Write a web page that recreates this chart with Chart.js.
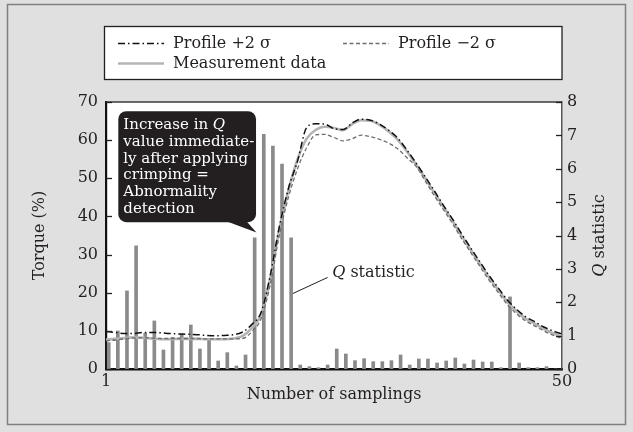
<!DOCTYPE html>
<html>
<head>
<meta charset="utf-8">
<script src="https://cdn.jsdelivr.net/npm/chart.js@4.4.1/dist/chart.umd.min.js"></script>
<style>
  html, body { margin: 0; padding: 0; background: #dfe0df; }
</style>
</head>
<body>
<canvas id="chart" width="633" height="432"></canvas>
<script>
// x axis runs over 50 sampling slots, labelled only at its two ends
const xTickValues = [0, 50]
const xTickLabels = ["1", "50"]
const torqueTicks = [0, 10, 20, 30, 40, 50, 60, 70]
const qTicks = [0, 1, 2, 3, 4, 5, 6, 7, 8]

const seriesLabels = ["Profile +2 σ", "Profile −2 σ", "Measurement data"]

// Q statistic per sampling (right axis)
const qStatistic = [
  0.79, 1.14, 2.34, 3.69, 1.07, 1.44, 0.57, 0.95, 1.04, 1.32,
  0.60, 0.92, 0.24, 0.49, 0.09, 0.42, 3.93, 7.03, 6.68, 6.14,
  3.93, 0.12, 0.07, 0.04, 0.12, 0.60, 0.45, 0.25, 0.31, 0.22,
  0.22, 0.25, 0.42, 0.12, 0.30, 0.30, 0.18, 0.24, 0.33, 0.15,
  0.27, 0.21, 0.21, 0.04, 2.16, 0.18, 0.04, 0.04, 0.07, 0
]

// torque curves (left axis), one point per slot boundary
const profilePlus = [
  9.8, 9.6, 9.3, 9.3, 9.6, 9.6, 9.5, 9.3, 9.2, 9.1,
  9.0, 8.8, 8.7, 8.8, 9.0, 9.7, 11.7, 14.8, 24.4, 37.2,
  47.3, 54.5, 63.3, 64.3, 64.2, 63.0, 62.8, 64.5, 65.5, 65.2,
  64.2, 62.6, 60.5, 57.4, 54.0, 50.4, 46.7, 42.9, 39.3, 35.4,
  31.7, 28.1, 24.5, 21.3, 18.1, 15.7, 13.7, 12.4, 11.0, 10.0,
  9.2
]
const profileMinus = [
  7.4, 7.6, 7.9, 8.1, 8.2, 8.1, 8.0, 8.0, 8.0, 8.0,
  8.0, 7.9, 7.9, 7.9, 7.9, 8.0, 9.8, 13.2, 22.0, 35.0,
  45.0, 52.5, 58.0, 61.4, 61.5, 60.7, 59.8, 60.4, 61.3, 60.9,
  60.2, 59.2, 57.7, 55.4, 53.1, 49.3, 45.4, 41.8, 38.1, 34.2,
  30.5, 26.9, 23.3, 20.1, 16.9, 14.5, 12.6, 11.3, 10.0, 8.9,
  8.0
]
const measurement = [
  7.7, 7.9, 8.1, 8.3, 8.2, 8.0, 7.8, 7.8, 7.9, 7.9,
  7.9, 7.8, 7.8, 7.8, 8.0, 8.7, 10.8, 14.3, 23.6, 36.6,
  46.8, 55.0, 60.4, 62.7, 63.5, 63.2, 62.6, 64.2, 65.2, 65.1,
  64.0, 62.3, 60.1, 57.0, 53.6, 50.0, 46.2, 42.5, 38.8, 34.9,
  31.2, 27.6, 24.0, 20.8, 17.6, 15.2, 13.2, 11.9, 10.5, 9.4,
  8.4
]

const calloutLines = ["Increase in *Q*", "value immediate-", "ly after applying", "crimping =", "Abnormality", "detection"]
const qLabel = "*Q* statistic"
const axisTitles = { left: "Torque (%)", bottom: "Number of samplings", right: "*Q* statistic" }

const FONT = "DejaVu Serif"
const INK = "#231f20"

function toPoints(values) {
  return values.map((v, i) => ({ x: i, y: v }))
}

// draws text where *...* parts are italic; returns width
function richText(ctx, text, x, y, size, color, align) {
  const parts = text.split("*")
  let total = 0
  parts.forEach((p, i) => {
    ctx.font = (i % 2 ? "italic " : "") + size + "px " + FONT
    total += ctx.measureText(p).width
  })
  let cx = align === "center" ? x - total / 2 : x
  ctx.fillStyle = color
  ctx.textBaseline = "middle"
  ctx.textAlign = "left"
  parts.forEach((p, i) => {
    ctx.font = (i % 2 ? "italic " : "") + size + "px " + FONT
    ctx.fillText(p, cx, y)
    cx += ctx.measureText(p).width
  })
  return total
}

const decorations = {
  id: "decorations",
  beforeDraw(chart) {
    const { ctx, chartArea: a } = chart
    ctx.save()
    ctx.strokeStyle = "#808080"
    ctx.lineWidth = 1.5
    ctx.strokeRect(7.5, 4.5, 618, 420)
    ctx.fillStyle = "#ffffff"
    ctx.fillRect(a.left, a.top, a.right - a.left, a.bottom - a.top)
    ctx.restore()
  },
  afterDatasetsDraw(chart) {
    const { ctx, chartArea: a, scales } = chart
    const x = scales.x, y = scales.y, y2 = scales.y2
    ctx.save()

    // top frame and inward tick marks
    ctx.strokeStyle = "#3a3a3a"
    ctx.lineWidth = 1.5
    ctx.beginPath()
    ctx.moveTo(a.left, a.top)
    ctx.lineTo(a.right, a.top)
    ctx.stroke()
    ctx.strokeStyle = INK
    ctx.lineWidth = 1.3
    torqueTicks.forEach((t) => {
      const py = Math.round(y.getPixelForValue(t)) + 0.5
      ctx.beginPath()
      ctx.moveTo(a.left, py)
      ctx.lineTo(a.left + 6, py)
      ctx.stroke()
    })
    qTicks.forEach((t) => {
      const py = Math.round(y2.getPixelForValue(t)) + 0.5
      ctx.beginPath()
      ctx.moveTo(a.right - 6, py)
      ctx.lineTo(a.right, py)
      ctx.stroke()
    })

    // callout box
    const bl = x.getPixelForValue(1.35), br = x.getPixelForValue(16.45)
    const bt = y.getPixelForValue(67.6), bb = y.getPixelForValue(38.5)
    ctx.fillStyle = INK
    ctx.beginPath()
    ctx.roundRect(bl, bt, br - bl, bb - bt, 8)
    ctx.fill()
    ctx.beginPath()
    ctx.moveTo(x.getPixelForValue(13.2), bb - 1)
    ctx.lineTo(x.getPixelForValue(16.5), y.getPixelForValue(35.8))
    ctx.lineTo(x.getPixelForValue(15.4), bb - 1)
    ctx.closePath()
    ctx.fill()
    calloutLines.forEach((line, i) => {
      richText(ctx, line, bl + 5, bt + 14 + i * 16.8, 15, "#ffffff", "left")
    })

    // Q statistic label with leader line
    ctx.strokeStyle = INK
    ctx.lineWidth = 1
    ctx.beginPath()
    ctx.moveTo(x.getPixelForValue(20.5), y.getPixelForValue(19.8))
    ctx.lineTo(x.getPixelForValue(24.3), y.getPixelForValue(24.0))
    ctx.stroke()
    richText(ctx, qLabel, x.getPixelForValue(24.8), y.getPixelForValue(25.3), 16, INK, "left")

    // legend
    const lt = 26.5, lb = 79.5
    ctx.fillStyle = "#ffffff"
    ctx.fillRect(a.left - 1.5, lt, a.right - a.left + 1.5, lb - lt)
    ctx.strokeStyle = INK
    ctx.lineWidth = 1.3
    ctx.strokeRect(a.left - 1.5, lt, a.right - a.left + 1.5, lb - lt)
    const items = [
      { ds: chart.data.datasets[0], x0: a.left + 12, row: 0 },
      { ds: chart.data.datasets[1], x0: a.left + 237, row: 0 },
      { ds: chart.data.datasets[2], x0: a.left + 12, row: 1 }
    ]
    items.forEach((it) => {
      const py = 43.5 + it.row * 20
      ctx.strokeStyle = it.ds.borderColor
      ctx.lineWidth = it.ds.borderWidth
      ctx.setLineDash(it.ds.borderDash || [])
      ctx.beginPath()
      ctx.moveTo(it.x0, py)
      ctx.lineTo(it.x0 + 46, py)
      ctx.stroke()
      ctx.setLineDash([])
      richText(ctx, it.ds.label, it.x0 + 55, py, 16, INK, "left")
    })

    // axis titles
    ctx.save()
    ctx.translate(a.left - 66, (a.top + a.bottom) / 2)
    ctx.rotate(-Math.PI / 2)
    richText(ctx, axisTitles.left, 0, 0, 16, INK, "center")
    ctx.restore()
    ctx.save()
    ctx.translate(a.right + 38, (a.top + a.bottom) / 2)
    ctx.rotate(-Math.PI / 2)
    richText(ctx, axisTitles.right, 0, 0, 16, INK, "center")
    ctx.restore()
    richText(ctx, axisTitles.bottom, (a.left + a.right) / 2, a.bottom + 26, 16, INK, "center")

    ctx.restore()
  }
}

const tickFont = { family: FONT, size: 16 }

new Chart(document.getElementById("chart"), {
  type: "bar",
  data: {
    datasets: [
      {
        type: "line",
        label: seriesLabels[0],
        data: toPoints(profilePlus),
        yAxisID: "y",
        borderColor: "#111111",
        borderWidth: 1.5,
        borderDash: [7, 3, 1.5, 3],
        pointRadius: 0,
        cubicInterpolationMode: "monotone",
        order: 1
      },
      {
        type: "line",
        label: seriesLabels[1],
        data: toPoints(profileMinus),
        yAxisID: "y",
        borderColor: "#6e6e6e",
        borderWidth: 1.3,
        borderDash: [4, 2.5],
        pointRadius: 0,
        cubicInterpolationMode: "monotone",
        order: 2
      },
      {
        type: "line",
        label: seriesLabels[2],
        data: toPoints(measurement),
        yAxisID: "y",
        borderColor: "#b4b4b4",
        borderWidth: 2.6,
        pointRadius: 0,
        cubicInterpolationMode: "monotone",
        order: 3
      },
      {
        type: "bar",
        label: "Q statistic",
        data: qStatistic.map((q, i) => ({ x: i + 0.3, y: q })),
        yAxisID: "y2",
        backgroundColor: "#8a8a8a",
        barThickness: 3,
        order: 4
      }
    ]
  },
  options: {
    responsive: false,
    animation: false,
    layout: { padding: { top: 102, left: 0, right: 0, bottom: 0 } },
    plugins: { legend: { display: false }, tooltip: { enabled: false } },
    scales: {
      x: {
        type: "linear",
        min: 0,
        max: 50,
        offset: false,
        afterBuildTicks: (s) => { s.ticks = xTickValues.map((v) => ({ value: v })) },
        afterFit: (s) => { s.height = 63 },
        ticks: {
          font: tickFont,
          color: INK,
          padding: 3,
          maxRotation: 0,
          autoSkip: false,
          callback: (v) => xTickLabels[xTickValues.indexOf(v)]
        },
        grid: { display: false, drawTicks: false },
        border: { color: "#111111", width: 2.5 }
      },
      y: {
        position: "left",
        min: 0,
        max: 70,
        afterBuildTicks: (s) => { s.ticks = torqueTicks.map((v) => ({ value: v })) },
        afterFit: (s) => { s.width = 106 },
        ticks: { font: tickFont, color: INK, padding: 8 },
        grid: { display: false, drawTicks: false },
        border: { color: "#111111", width: 2.2 }
      },
      y2: {
        position: "right",
        min: 0,
        max: 8,
        afterBuildTicks: (s) => { s.ticks = qTicks.map((v) => ({ value: v })) },
        afterFit: (s) => { s.width = 71 },
        ticks: { font: tickFont, color: INK, padding: 5 },
        grid: { display: false, drawTicks: false },
        border: { color: "#555555", width: 1.5 }
      }
    }
  },
  plugins: [decorations]
})
</script>
</body>
</html>
